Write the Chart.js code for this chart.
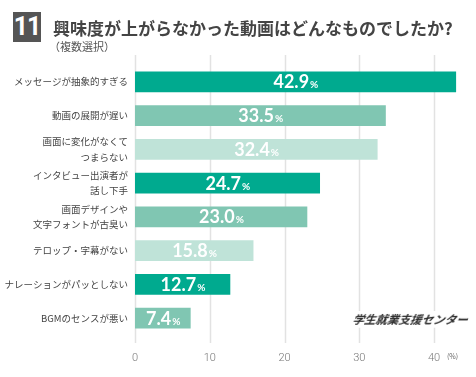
<!DOCTYPE html>
<html>
<head>
<meta charset="utf-8">
<script src="https://cdn.jsdelivr.net/npm/chart.js@4"></script>
<style>
  body { margin: 0; background: #fff; }
  #wrap { position: relative; width: 476px; height: 377px; overflow: hidden; }
  #chart { position: absolute; left: 0; top: 0; }
  .num { position: absolute; left: 13px; top: 12px; width: 28px; height: 30px; background: #555;
         color: #fff; font: bold 25px Roboto, sans-serif; letter-spacing: -1px; text-align: center; line-height: 30px; }
  .title { position: absolute; left: 53px; top: 15px; font: bold 17px "Noto Sans CJK JP", sans-serif; color: #444; white-space: nowrap; }
  .sub { position: absolute; left: 49px; top: 38px; font: 11px "Noto Sans CJK JP", sans-serif; color: #555; }
  .unit { position: absolute; left: 447px; top: 351px; font: 7px "Noto Sans CJK JP", sans-serif; color: #666; }
  .mark { position: absolute; left: 350px; top: 311px; padding: 0 3px; background: #fff;
          font: bold italic 11.5px "Noto Sans CJK JP", sans-serif; color: #2a2a2a; transform: skewX(-10deg); }
</style>
</head>
<body>
<div id="wrap">
  <canvas id="chart" width="476" height="377"></canvas>
  <div class="num">11</div>
  <div class="title">興味度が上がらなかった動画はどんなものでしたか?</div>
  <div class="sub">（複数選択）</div>
  <div class="unit">(%)</div>
  <div class="mark">学生就業支援センター</div>
</div>
<script>
// data
const categories = [
  'メッセージが抽象的すぎる',
  '動画の展開が遅い',
  ['画面に変化がなくて', 'つまらない'],
  ['インタビュー出演者が', '話し下手'],
  ['画面デザインや', '文字フォントが古臭い'],
  'テロップ・字幕がない',
  'ナレーションがパッとしない',
  'BGMのセンスが悪い'
];
const values = [42.9, 33.5, 32.4, 24.7, 23.0, 15.8, 12.7, 7.4];
const tickValues = [0, 10, 20, 30, 40];

const dark = '#00aa8f', mid = '#80c6b2', light = '#bfe3d8';
const barColors = [dark, mid, light, dark, mid, light, dark, mid];

// vertical grid lines, a bit taller than the bar area
const gridPlugin = {
  id: 'grid',
  beforeDatasetsDraw(chart) {
    const { ctx, scales: { x } } = chart;
    ctx.save();
    ctx.strokeStyle = '#e2e2e2';
    ctx.lineWidth = 1.5;
    tickValues.forEach(v => {
      const px = Math.round(x.getPixelForValue(v)) + 0.5;
      ctx.beginPath();
      ctx.moveTo(px, 55);
      ctx.lineTo(px, 343);
      ctx.stroke();
    });
    ctx.restore();
  }
};

// value labels inside bars: big number + small %
const labelPlugin = {
  id: 'labels',
  afterDatasetsDraw(chart) {
    const { ctx } = chart;
    const meta = chart.getDatasetMeta(0);
    ctx.save();
    ctx.fillStyle = '#fff';
    ctx.textBaseline = 'alphabetic';
    ctx.textAlign = 'left';
    meta.data.forEach((bar, i) => {
      const txt = values[i].toFixed(1);
      ctx.font = 'bold 18px Lato, sans-serif';
      const w1 = ctx.measureText(txt).width;
      ctx.font = 'bold 10px Lato, sans-serif';
      const w2 = ctx.measureText('%').width;
      const cx = (bar.x + bar.base) / 2;
      const x0 = cx - (w1 + w2) / 2;
      const y = bar.y + 6.5;
      ctx.font = 'bold 18px Lato, sans-serif';
      ctx.fillText(txt, x0, y);
      ctx.font = 'bold 10px Lato, sans-serif';
      ctx.fillText('%', x0 + w1 + 1, y);
    });
    ctx.restore();
  }
};

new Chart(document.getElementById('chart'), {
  type: 'bar',
  data: {
    labels: categories,
    datasets: [{
      data: values,
      backgroundColor: barColors,
      barThickness: 20,
      borderWidth: 0
    }]
  },
  options: {
    indexAxis: 'y',
    responsive: false,
    animation: false,
    layout: { padding: { left: 0, right: 12, top: 65, bottom: 12 } },
    plugins: { legend: { display: false }, tooltip: { enabled: false } },
    scales: {
      x: {
        min: 0,
        max: 44,
        afterBuildTicks: s => { s.ticks = tickValues.map(v => ({ value: v })); },
        afterFit: s => { s.height = 30; },
        grid: { display: false, drawTicks: false },
        border: { display: false },
        ticks: {
          padding: 17,
          color: '#777',
          font: { family: 'Roboto', size: 11, weight: '300' }
        }
      },
      y: {
        afterFit: s => { s.width = 135; },
        grid: { display: false, drawTicks: false },
        border: { display: false },
        ticks: {
          padding: 7,
          color: '#444',
          font: { family: '"Noto Sans CJK JP"', size: 9.5, lineHeight: 1.6 }
        }
      }
    }
  },
  plugins: [gridPlugin, labelPlugin]
});
</script>
</body>
</html>
